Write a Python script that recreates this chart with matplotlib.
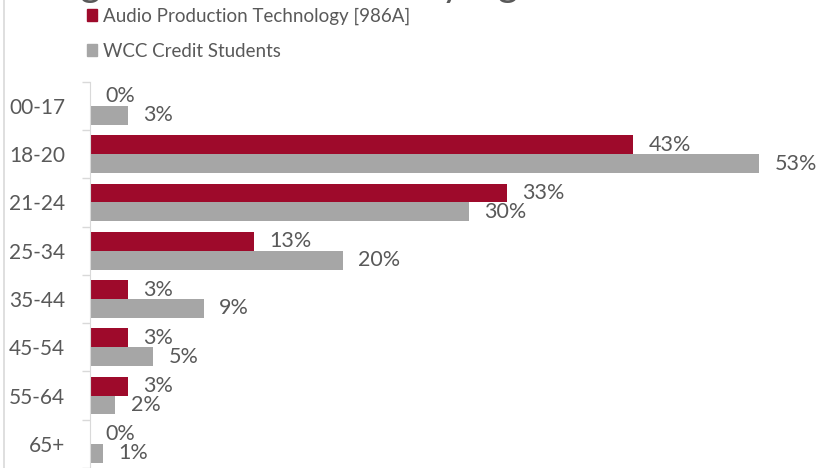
import numpy as np
import matplotlib.pyplot as plt
from matplotlib.patches import Patch

plt.rcParams['font.family'] = ['Lato', 'DejaVu Sans']

age_groups = ["00-17", "18-20", "21-24", "25-34", "35-44", "45-54", "55-64", "65+"]
program = [0, 43, 33, 13, 3, 3, 3, 0]
wcc = [3, 53, 30, 20, 9, 5, 2, 1]

red = "#9E0A2B"
grey = "#A6A6A6"
txt = "#595959"

fig = plt.figure(figsize=(8.22, 4.68), dpi=100)
ax = fig.add_axes([90 / 822, 0, 720 / 822, 1 - 81.7 / 468])

y = np.arange(len(age_groups))
h = 0.39
ax.barh(y - h / 2, program, height=h, color=red)
ax.barh(y + h / 2, wcc, height=h, color=grey)

for i in range(len(age_groups)):
    ax.annotate(f"{program[i]}%", (program[i], y[i] - h / 2), xytext=(11, 0),
                textcoords="offset points", va="center", ha="left",
                fontsize=15.5, color=txt)
    ax.annotate(f"{wcc[i]}%", (wcc[i], y[i] + h / 2), xytext=(11, 0),
                textcoords="offset points", va="center", ha="left",
                fontsize=15.5, color=txt)

ax.set_xlim(0, 57)
ax.set_ylim(-0.5 + (468 - 81.7) / 48.7, -0.5)
ax.set_yticks(y)
ax.set_yticklabels(age_groups, fontsize=15, color=txt)
ax.set_yticks(np.arange(-0.5, 8, 1), minor=True)
ax.tick_params(axis="y", which="major", length=0, pad=18)
ax.tick_params(axis="y", which="minor", length=6, color="#D9D9D9", width=1)
ax.set_xticks([])
for s in ["top", "right", "bottom"]:
    ax.spines[s].set_visible(False)
ax.spines["left"].set_color("#D9D9D9")

# chart border on the left
fig.add_artist(plt.Line2D([3.5 / 822, 3.5 / 822], [0, 1], color="#D9D9D9", lw=1.2))

# title sits mostly above the visible area
fig.text(54 / 822, 1.008, "Age Distribution Mix by Age", fontsize=28,
         color=txt, ha="left", va="baseline")

handles = [Patch(color=red, label="Audio Production Technology [986A]"),
           Patch(color=grey, label="WCC Credit Students")]
fig.legend(handles=handles, loc="upper left", bbox_to_anchor=(70 / 822, 1.02),
           frameon=False, fontsize=13.5, labelcolor=txt, handlelength=0.55,
           handleheight=0.55, handletextpad=0.3, labelspacing=0.95)

fig.savefig("out.png", dpi=100)
